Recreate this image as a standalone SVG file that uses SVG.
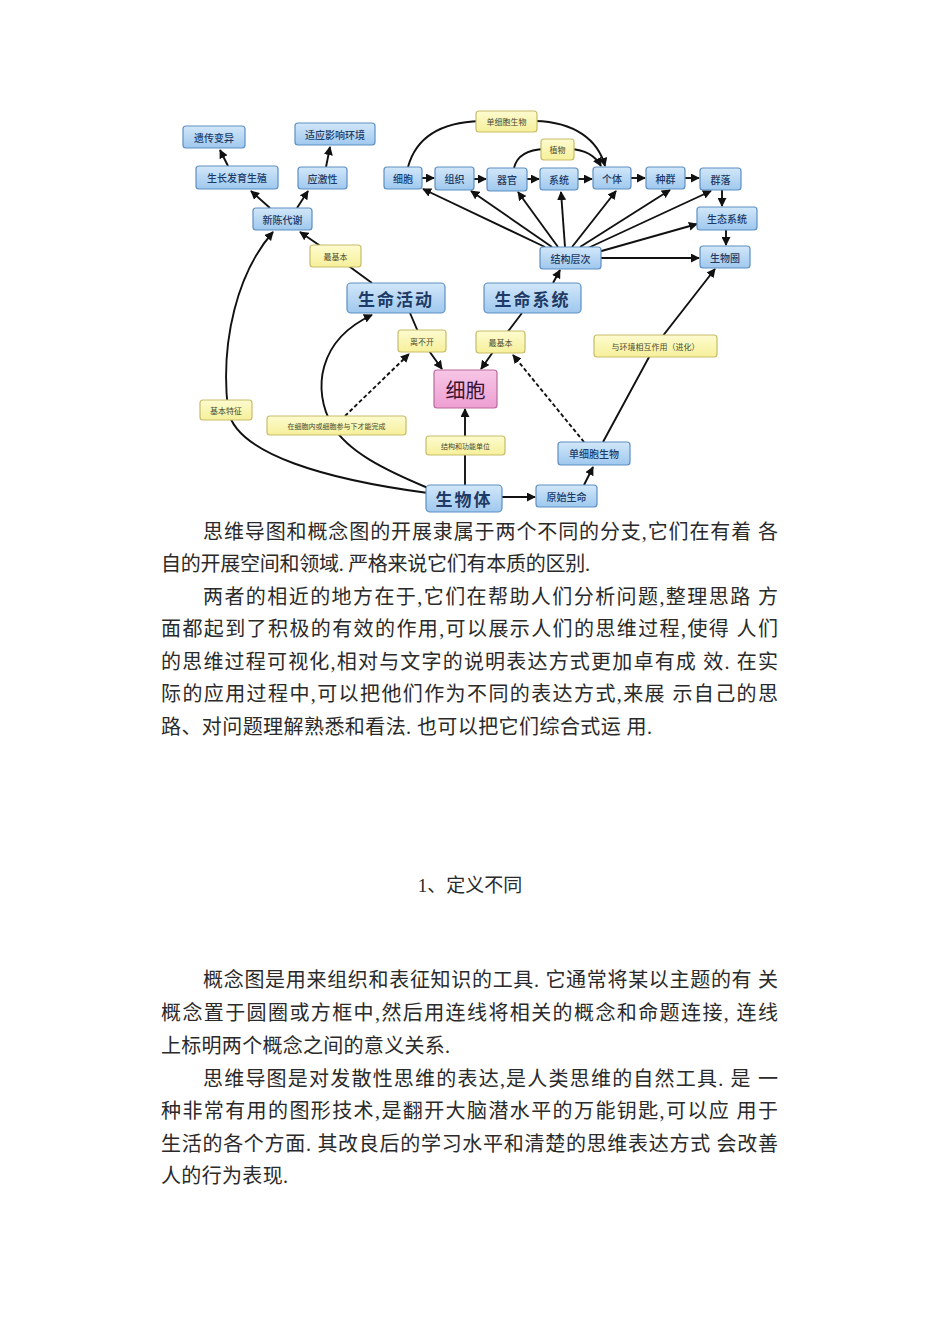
<svg xmlns="http://www.w3.org/2000/svg" width="950" height="1344" viewBox="0 0 950 1344">
<defs>
<linearGradient id="gb" x1="0" y1="0" x2="0" y2="1"><stop offset="0" stop-color="#d2e7f9"/><stop offset="1" stop-color="#9fc8ee"/></linearGradient>
<linearGradient id="gy" x1="0" y1="0" x2="0" y2="1"><stop offset="0" stop-color="#fdfbd0"/><stop offset="1" stop-color="#f6f09a"/></linearGradient>
<linearGradient id="gp" x1="0" y1="0" x2="0" y2="1"><stop offset="0" stop-color="#f7c6e6"/><stop offset="1" stop-color="#ee9fd2"/></linearGradient>
<marker id="ar" viewBox="0 0 10 10" refX="9" refY="5" markerWidth="9" markerHeight="9" markerUnits="userSpaceOnUse" orient="auto"><path d="M0,0 L10,5 L0,10 z" fill="#111"/></marker>
<style>
.b{fill:url(#gb);stroke:#5d8fc2;stroke-width:1.2}
.y{fill:url(#gy);stroke:#c7bd6a;stroke-width:1.2}
.p{fill:url(#gp);stroke:#b86a9e;stroke-width:1.2}
.t{font-family:"Noto Sans CJK SC",sans-serif;font-size:10px;font-weight:500;fill:#1d3b66;text-anchor:middle;dominant-baseline:central}
.ty{font-family:"Noto Sans CJK SC",sans-serif;font-size:8px;fill:#4a4a30;text-anchor:middle;dominant-baseline:central}
.tb{font-family:"Noto Sans CJK SC",sans-serif;font-size:17px;font-weight:bold;fill:#1d3b66;text-anchor:middle;dominant-baseline:central;letter-spacing:2px}
.c{fill:none;stroke:#111;stroke-width:1.9}
.d{stroke-dasharray:4 2.5}
.a{marker-end:url(#ar)}
.para{font-family:"Liberation Serif","Noto Sans CJK SC",serif;font-size:20px;fill:#2a2a2a}
</style>
</defs>
<rect width="950" height="1344" fill="#fff"/>

<g id="connectors">
<path class="c a" d="M270,208 L251,191"/>
<path class="c a" d="M297,208 L308,191"/>
<path class="c a" d="M228,166 L220,150"/>
<path class="c a" d="M326,167 L330,147"/>
<path class="c a" d="M372,283 L335,256 L300,232"/>
<path class="c a" d="M545,247 L423,189"/>
<path class="c a" d="M552,247 L471,191"/>
<path class="c a" d="M558,247 L518,192"/>
<path class="c a" d="M565,247 L561,192"/>
<path class="c a" d="M572,247 L616,191"/>
<path class="c a" d="M580,247 L670,190"/>
<path class="c a" d="M588,248 L711,191"/>
<path class="c a" d="M598,252 L697,224"/>
<path class="c a" d="M601,258 L699,258"/>
<path class="c a" d="M422,178 L434,178"/>
<path class="c a" d="M474,179 L486,179"/>
<path class="c a" d="M527,179 L539,179"/>
<path class="c a" d="M578,179 L592,179"/>
<path class="c a" d="M631,178 L645,178"/>
<path class="c a" d="M685,178 L699,178"/>
<path class="c a" d="M722,190 L722,206"/>
<path class="c a" d="M726,230 L726,245"/>
<path class="c a" d="M408,167 Q420,123 480,121 L535,121 C575,122 598,140 605,166"/>
<path class="c a" d="M514,168 Q518,150 545,149 L570,149 Q592,150 601,166"/>
<path class="c a" d="M553,283 L560,270"/>
<path class="c a" d="M522,313 L500,342 L481,369"/>
<path class="c a" d="M410,313 L422,341 L442,369"/>
<path class="c a" d="M465,485 L465,409"/>
<path class="c a" d="M502,497 L535,497"/>
<path class="c a" d="M584,485 L593,467"/>
<path class="c a" d="M603,442 L655,346 L715,269"/>
<path class="c d a" d="M584,442 L513,355"/>
<path class="c a" d="M428,493 C330,480 236,455 228,410 C220,340 238,272 273,232"/>
<path class="c a" d="M428,488 C385,470 348,452 332,425 C312,390 318,340 372,315"/>
<path class="c d a" d="M345,416 L409,354"/>
</g>

<g id="n-yichuan"><rect class="b" x="183" y="126" width="62" height="22" rx="3"/><text class="t" x="214" y="137">遗传变异</text></g>
<g id="n-shiying"><rect class="b" x="295" y="123" width="80" height="22" rx="3"/><text class="t" x="335" y="134">适应影响环境</text></g>
<g id="n-shengzhang"><rect class="b" x="196" y="166" width="82" height="23" rx="3"/><text class="t" x="237" y="177.5">生长发育生殖</text></g>
<g id="n-yingji"><rect class="b" x="298" y="167" width="49" height="22" rx="3"/><text class="t" x="322.5" y="178">应激性</text></g>
<g id="n-xinchen"><rect class="b" x="253" y="208" width="59" height="22" rx="3"/><text class="t" x="282.5" y="219">新陈代谢</text></g>
<g id="l-zuijiben1"><rect class="y" x="310" y="245" width="51" height="22" rx="3"/><text class="ty" x="335.5" y="256">最基本</text></g>
<g id="n-shengminghuodong"><rect class="b" x="347" y="283" width="98" height="30" rx="4"/><text class="tb" x="396" y="298">生命活动</text></g>
<g id="n-shengmingxitong"><rect class="b" x="484" y="283" width="97" height="30" rx="4"/><text class="tb" x="532.5" y="298">生命系统</text></g>
<g id="l-libukai"><rect class="y" x="398" y="330" width="48" height="22" rx="3"/><text class="ty" x="422" y="341">离不开</text></g>
<g id="l-zuijiben2"><rect class="y" x="476" y="331" width="49" height="22" rx="3"/><text class="ty" x="500.5" y="342">最基本</text></g>
<g id="n-xibao"><rect class="p" x="434" y="370" width="63" height="38" rx="3"/><text x="465.5" y="389" style="font-family:'Noto Sans CJK SC',sans-serif;font-size:20px;fill:#3a1433;text-anchor:middle;dominant-baseline:central">细胞</text></g>
<g id="l-jiegou"><rect class="y" x="426" y="436" width="79" height="19" rx="3"/><text class="ty" x="465.5" y="445.5" style="font-size:7px">结构和功能单位</text></g>
<g id="n-shengwuti"><rect class="b" x="426" y="485" width="76" height="27" rx="4"/><text class="tb" x="464" y="498.5">生物体</text></g>
<g id="n-yuanshi"><rect class="b" x="536" y="485" width="61" height="22" rx="3"/><text class="t" x="566.5" y="496">原始生命</text></g>
<g id="n-danxibao"><rect class="b" x="558" y="442" width="72" height="23" rx="3"/><text class="t" x="594" y="453.5">单细胞生物</text></g>
<g id="l-huanjing"><rect class="y" x="594" y="335" width="123" height="22" rx="3"/><text class="ty" x="655.5" y="346">与环境相互作用（进化）</text></g>
<g id="l-jibentezheng"><rect class="y" x="200" y="400" width="52" height="20" rx="3"/><text class="ty" x="226" y="410">基本特征</text></g>
<g id="l-zaixibao"><rect class="y" x="267" y="416" width="139" height="19" rx="3"/><text class="ty" x="336.5" y="425.5" style="font-size:7px">在细胞内或细胞参与下才能完成</text></g>
<g id="n-xibao2"><rect class="b" x="384" y="167" width="38" height="22" rx="3"/><text class="t" x="403" y="178">细胞</text></g>
<g id="n-zuzhi"><rect class="b" x="435" y="167" width="39" height="23" rx="3"/><text class="t" x="454.5" y="178.5">组织</text></g>
<g id="n-qiguan"><rect class="b" x="487" y="168" width="40" height="23" rx="3"/><text class="t" x="507" y="179.5">器官</text></g>
<g id="n-xitong"><rect class="b" x="540" y="168" width="38" height="22" rx="3"/><text class="t" x="559" y="179">系统</text></g>
<g id="n-geti"><rect class="b" x="593" y="167" width="38" height="22" rx="3"/><text class="t" x="612" y="178">个体</text></g>
<g id="n-zhongqun"><rect class="b" x="646" y="167" width="39" height="22" rx="3"/><text class="t" x="665.5" y="178">种群</text></g>
<g id="n-qunluo"><rect class="b" x="700" y="168" width="41" height="22" rx="3"/><text class="t" x="720.5" y="179">群落</text></g>
<g id="n-shengtai"><rect class="b" x="697" y="207" width="60" height="23" rx="3"/><text class="t" x="727" y="218.5">生态系统</text></g>
<g id="n-shengwuquan"><rect class="b" x="700" y="246" width="50" height="22" rx="3"/><text class="t" x="725" y="257">生物圈</text></g>
<g id="n-jiegoucengci"><rect class="b" x="540" y="247" width="61" height="22" rx="3"/><text class="t" x="570.5" y="258">结构层次</text></g>
<g id="l-danxibao"><rect class="y" x="476" y="111" width="61" height="21" rx="3"/><text class="ty" x="506.5" y="121.5">单细胞生物</text></g>
<g id="l-zhiwu"><rect class="y" x="541" y="139" width="33" height="21" rx="3"/><text class="ty" x="557.5" y="149.5">植物</text></g>

<g id="text">
<text class="para" x="203" y="539" textLength="575" lengthAdjust="spacing">思维导图和概念图的开展隶属于两个不同的分支,它们在有着 各</text>
<text class="para" x="161" y="571" textLength="429" lengthAdjust="spacing">自的开展空间和领域. 严格来说它们有本质的区别.</text>
<text class="para" x="203" y="604" textLength="575" lengthAdjust="spacing">两者的相近的地方在于,它们在帮助人们分析问题,整理思路 方</text>
<text class="para" x="161" y="636" textLength="617" lengthAdjust="spacing">面都起到了积极的有效的作用,可以展示人们的思维过程,使得 人们</text>
<text class="para" x="161" y="669" textLength="617" lengthAdjust="spacing">的思维过程可视化,相对与文字的说明表达方式更加卓有成 效. 在实</text>
<text class="para" x="161" y="701" textLength="617" lengthAdjust="spacing">际的应用过程中,可以把他们作为不同的表达方式,来展 示自己的思</text>
<text class="para" x="161" y="734" textLength="491" lengthAdjust="spacing">路、对问题理解熟悉和看法. 也可以把它们综合式运 用.</text>
<text class="para" x="470" y="892" text-anchor="middle" style="font-size:19px">1、定义不同</text>
<text class="para" x="203" y="987" textLength="575" lengthAdjust="spacing">概念图是用来组织和表征知识的工具. 它通常将某以主题的有 关</text>
<text class="para" x="161" y="1020" textLength="617" lengthAdjust="spacing">概念置于圆圈或方框中,然后用连线将相关的概念和命题连接, 连线</text>
<text class="para" x="161" y="1053" textLength="289" lengthAdjust="spacing">上标明两个概念之间的意义关系.</text>
<text class="para" x="203" y="1086" textLength="575" lengthAdjust="spacing">思维导图是对发散性思维的表达,是人类思维的自然工具. 是 一</text>
<text class="para" x="161" y="1118" textLength="617" lengthAdjust="spacing">种非常有用的图形技术,是翻开大脑潜水平的万能钥匙,可以应 用于</text>
<text class="para" x="161" y="1151" textLength="617" lengthAdjust="spacing">生活的各个方面. 其改良后的学习水平和清楚的思维表达方式 会改善</text>
<text class="para" x="161" y="1183" textLength="127" lengthAdjust="spacing">人的行为表现.</text>
</g>
</svg>
